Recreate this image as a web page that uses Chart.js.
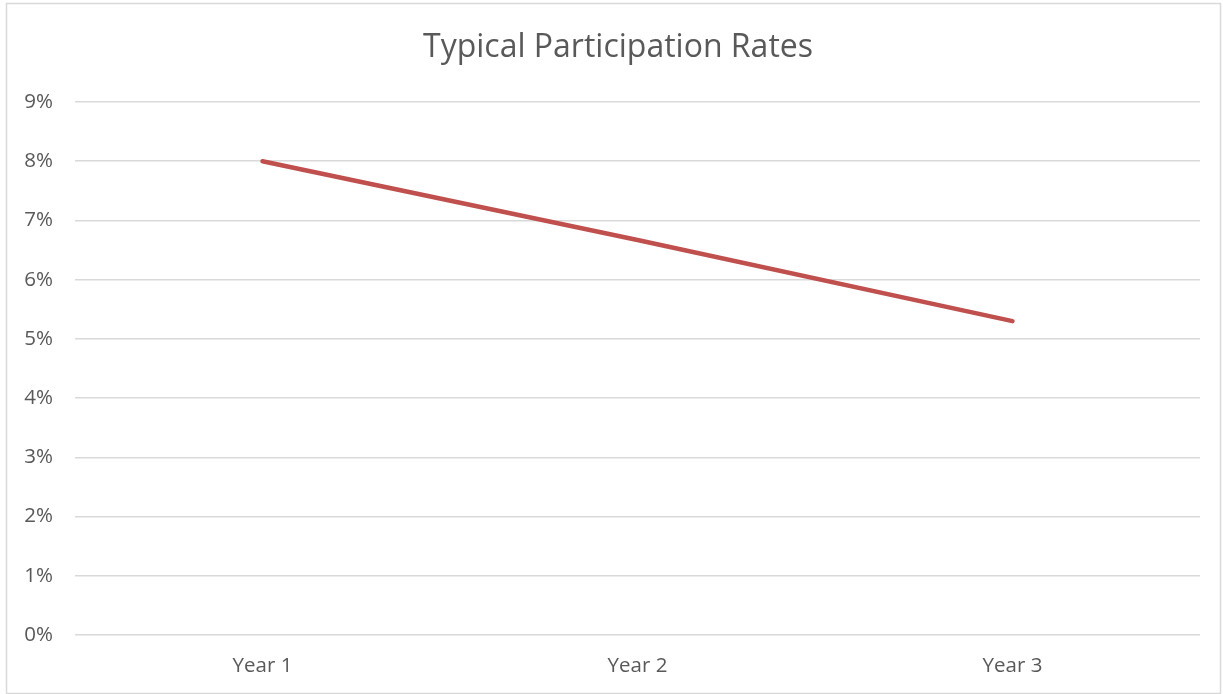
<!DOCTYPE html>
<html lang="en">
<head>
  <meta charset="UTF-8">
  <title>Typical Participation Rates</title>
  <script src="https://cdn.jsdelivr.net/npm/chart.js"></script>
  <style>
    html, body { margin: 0; padding: 0; background: #fff; }
    #wrap { position: relative; width: 1223px; height: 694px; }
  </style>
</head>
<body>
  <div id="wrap"><canvas id="rateChart"></canvas></div>

  <script>
    const years = ["Year 1", "Year 2", "Year 3"];
    const rates = [8.0, 6.67, 5.3];
    const yTicks = [0, 1, 2, 3, 4, 5, 6, 7, 8, 9];

    // thin grey frame around the whole chart, and title centred on the frame
    const frame = {
      id: 'frame',
      afterLayout(chart) {
        if (chart.titleBlock) chart.titleBlock.left += 36;
      },
      beforeDraw(chart) {
        const ctx = chart.ctx;
        ctx.save();
        ctx.fillStyle = '#fff';
        ctx.fillRect(0, 0, chart.width, chart.height);
        ctx.strokeStyle = '#d9d9d9';
        ctx.lineWidth = 1.5;
        ctx.strokeRect(6.5, 3.5, chart.width - 9, chart.height - 4);
        ctx.restore();
      }
    };

    new Chart(document.getElementById("rateChart"), {
      type: 'line',
      data: {
        labels: years,
        datasets: [{
          label: "Participation rate",
          data: rates,
          borderColor: '#c0504d',
          borderWidth: 4.5,
          borderCapStyle: 'round',
          pointRadius: 0,
          tension: 0,
          fill: false
        }]
      },
      options: {
        responsive: true,
        maintainAspectRatio: false,
        animation: false,
        layout: { padding: { left: 0, right: 23, top: 0, bottom: 0 } },
        plugins: {
          legend: { display: false },
          tooltip: { enabled: false },
          title: {
            display: true,
            text: "Typical Participation Rates",
            color: '#595959',
            font: { family: "'Open Sans', sans-serif", size: 32, weight: 'normal', lineHeight: 1.2 },
            padding: { top: 29, bottom: 34.6 }
          }
        },
        scales: {
          x: {
            offset: true,
            grid: { display: false, drawTicks: false },
            border: { display: false },
            ticks: {
              color: '#595959',
              padding: 19,
              font: { family: "'Open Sans', sans-serif", size: 20.5 }
            },
            afterFit(scale) { scale.height = 59; }
          },
          y: {
            min: 0,
            max: 9,
            afterBuildTicks(scale) { scale.ticks = yTicks.map(v => ({ value: v })); },
            grid: { color: '#d9d9d9', lineWidth: 1.5, drawTicks: false },
            border: { display: false },
            ticks: {
              color: '#595959',
              padding: 22,
              font: { family: "'Open Sans', sans-serif", size: 20.5 },
              callback: v => v + '%'
            },
            afterFit(scale) { scale.width = 75; }
          }
        }
      },
      plugins: [frame]
    });
  </script>
</body>
</html>
